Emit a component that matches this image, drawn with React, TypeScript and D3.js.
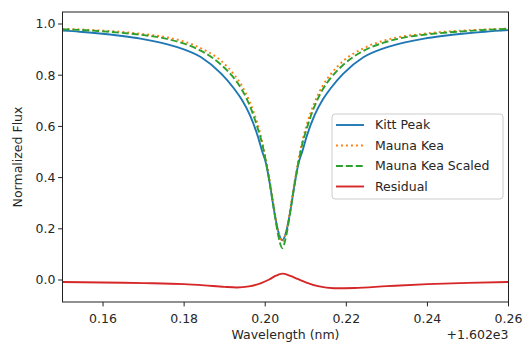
import React from "react";
import * as d3 from "d3";

// Wavelength offsets from 1602 nm (shared by the three flux profiles)
const WAVELENGTH = [
  0.15, 0.1542, 0.1592, 0.1642, 0.1692, 0.1742, 0.1792, 0.1842, 0.1892, 0.1922,
  0.1942, 0.1962, 0.1982, 0.1992, 0.2002, 0.2012, 0.2022, 0.2032, 0.2042, 0.2052,
  0.2062, 0.2072, 0.2082, 0.2092, 0.2102, 0.2122, 0.2142, 0.2162, 0.2192, 0.2242,
  0.2292, 0.2342, 0.2392, 0.2442, 0.2492, 0.2542, 0.26,
];

const KITT_PEAK = [
  0.974, 0.97, 0.963, 0.954, 0.943, 0.927, 0.905, 0.87, 0.805, 0.75,
  0.705, 0.645, 0.56, 0.505, 0.455, 0.37, 0.27, 0.19, 0.155, 0.19,
  0.27, 0.37, 0.455, 0.505, 0.56, 0.645, 0.705, 0.75, 0.805, 0.87,
  0.905, 0.927, 0.943, 0.954, 0.963, 0.97, 0.976,
];

const MAUNA_KEA = [
  0.981, 0.979, 0.975, 0.97, 0.962, 0.952, 0.935, 0.905, 0.855, 0.805,
  0.76, 0.695, 0.605, 0.545, 0.47, 0.38, 0.28, 0.19, 0.15, 0.19,
  0.28, 0.38, 0.47, 0.545, 0.605, 0.695, 0.76, 0.805, 0.855, 0.905,
  0.935, 0.952, 0.962, 0.97, 0.975, 0.979, 0.982,
];

const MAUNA_KEA_SCALED = [
  0.979, 0.977, 0.972, 0.966, 0.958, 0.947, 0.927, 0.895, 0.84, 0.79,
  0.745, 0.68, 0.59, 0.535, 0.46, 0.37, 0.27, 0.175, 0.125, 0.175,
  0.27, 0.37, 0.46, 0.535, 0.59, 0.68, 0.745, 0.79, 0.84, 0.895,
  0.927, 0.947, 0.958, 0.966, 0.972, 0.977, 0.981,
];

// Residual curve
const RESIDUAL_WL = [
  0.15, 0.16, 0.17, 0.18, 0.185, 0.19, 0.193, 0.196, 0.199, 0.201, 0.2025,
  0.2043, 0.206, 0.208, 0.21, 0.213, 0.217, 0.222, 0.23, 0.24, 0.25, 0.26,
];
const RESIDUAL = [
  -0.008, -0.01, -0.012, -0.016, -0.021, -0.027, -0.029, -0.025, -0.012, 0.002, 0.016,
  0.025, 0.017, 0.004, -0.009, -0.024, -0.032, -0.031, -0.024, -0.016, -0.011, -0.008,
];

const X_TICKS = [0.16, 0.18, 0.2, 0.22, 0.24, 0.26];
const Y_TICKS = [0.0, 0.2, 0.4, 0.6, 0.8, 1.0];

const SERIES = [
  { name: "Kitt Peak", color: "#1f77b4", dash: "none", x: WAVELENGTH, y: KITT_PEAK },
  { name: "Mauna Kea", color: "#ff7f0e", dash: "1.9,3.1", x: WAVELENGTH, y: MAUNA_KEA },
  { name: "Mauna Kea Scaled", color: "#2ca02c", dash: "6.9,3", x: WAVELENGTH, y: MAUNA_KEA_SCALED },
  { name: "Residual", color: "#d62728", dash: "none", x: RESIDUAL_WL, y: RESIDUAL },
];

const W = 522;
const H = 344;
const LEFT = 62.5;
const RIGHT = 508.5;
const TOP = 12;
const BOTTOM = 302;
const FONT = "DejaVu Sans, sans-serif";
const FS = 12.5;
const TEXT = "#262626";

export default function App() {
  const x = d3.scaleLinear().domain([0.15, 0.26]).range([LEFT, RIGHT]);
  const y = d3.scaleLinear().domain([-0.0859, 1.0469]).range([BOTTOM, TOP]);

  const line = (xs: number[], ys: number[]) =>
    d3
      .line<number>()
      .x((_, i) => x(xs[i]))
      .y((v) => y(v))
      .curve(d3.curveMonotoneX)(ys) ?? "";

  const legendX = 332;
  const legendY = 114;
  const rowH = 20.5;

  return (
    <svg
      width={W}
      height={H}
      viewBox={`0 0 ${W} ${H}`}
      style={{ position: "absolute", left: 0, top: 0, background: "#fff" }}
      fontFamily={FONT}
    >
      <defs>
        <clipPath id="plot-area">
          <rect x={LEFT} y={TOP} width={RIGHT - LEFT} height={BOTTOM - TOP} />
        </clipPath>
      </defs>

      <g clipPath="url(#plot-area)">
        {SERIES.map((s) => (
          <path
            key={s.name}
            d={line(s.x, s.y)}
            fill="none"
            stroke={s.color}
            strokeWidth={1.9}
            strokeDasharray={s.dash}
          />
        ))}
      </g>

      {/* frame */}
      <rect
        x={LEFT}
        y={TOP}
        width={RIGHT - LEFT}
        height={BOTTOM - TOP}
        fill="none"
        stroke="#222"
        strokeWidth={1}
      />

      {/* x axis */}
      {X_TICKS.map((t) => (
        <g key={t} transform={`translate(${x(t)},${BOTTOM})`}>
          <line y1={0} y2={4.4} stroke="#222" strokeWidth={1} />
          <text y={20.5} textAnchor="middle" fontSize={FS} fill={TEXT}>
            {t.toFixed(2)}
          </text>
        </g>
      ))}
      <text x={RIGHT} y={339} textAnchor="end" fontSize={FS} fill={TEXT}>
        +1.602e3
      </text>
      <text x={(LEFT + RIGHT) / 2} y={339} textAnchor="middle" fontSize={FS} fill={TEXT}>
        Wavelength (nm)
      </text>

      {/* y axis */}
      {Y_TICKS.map((t) => (
        <g key={t} transform={`translate(${LEFT},${y(t)})`}>
          <line x1={-4.4} x2={0} stroke="#222" strokeWidth={1} />
          <text x={-7} dy="0.35em" textAnchor="end" fontSize={FS} fill={TEXT}>
            {t.toFixed(1)}
          </text>
        </g>
      ))}
      <text
        transform={`translate(18,${(TOP + BOTTOM) / 2}) rotate(-90)`}
        textAnchor="middle"
        dy="0.35em"
        fontSize={FS}
        fill={TEXT}
      >
        Normalized Flux
      </text>

      {/* legend */}
      <rect
        x={legendX}
        y={legendY}
        width={171}
        height={85}
        rx={3}
        fill="#fff"
        fillOpacity={0.8}
        stroke="#ccc"
        strokeWidth={1}
      />
      {SERIES.map((s, i) => {
        const cy = legendY + 11 + i * rowH;
        return (
          <g key={s.name}>
            <line
              x1={legendX + 4}
              x2={legendX + 32}
              y1={cy}
              y2={cy}
              stroke={s.color}
              strokeWidth={1.9}
              strokeDasharray={s.dash}
            />
            <text x={legendX + 43} y={cy} dy="0.35em" fontSize={FS} fill={TEXT}>
              {s.name}
            </text>
          </g>
        );
      })}
    </svg>
  );
}
